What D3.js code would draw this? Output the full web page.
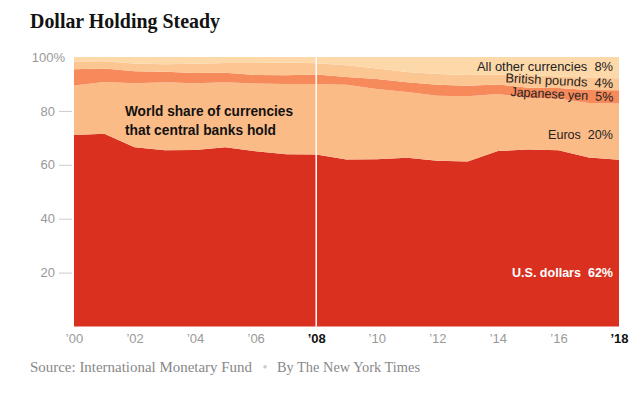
<!DOCTYPE html>
<html>
<head>
<meta charset="utf-8">
<script src="https://cdn.jsdelivr.net/npm/d3@7"></script>
<style>
  html, body { margin: 0; padding: 0; background: #fff; }
  svg { display: block; }
</style>
</head>
<body>
<svg id="chart" width="642" height="398"></svg>
<script>
// ---- Data (share of allocated reserves, %) ----
const years  = [2000,2001,2002,2003,2004,2005,2006,2007,2008,2009,2010,2011,2012,2013,2014,2015,2016,2017,2018];
const dollar = [71.1,71.5,66.5,65.4,65.5,66.5,65.0,63.9,63.8,62.0,62.1,62.6,61.5,61.2,65.1,65.7,65.4,62.7,61.9];
const euro   = [18.3,19.2,23.8,25.2,24.8,24.1,25.2,26.1,26.2,27.7,26.0,24.4,24.1,24.2,21.2,19.1,19.1,20.2,20.8];
const yen    = [6.1,5.0,4.4,3.9,3.8,3.6,3.1,3.2,3.5,2.9,3.7,3.6,4.1,3.9,3.5,3.8,4.0,4.9,5.0];
const pound  = [2.8,2.7,2.9,2.8,3.4,3.6,4.5,4.8,4.2,4.3,3.9,3.8,4.0,4.0,3.7,4.7,4.3,4.5,4.4];
const other  = [1.7,1.6,2.4,2.7,2.5,2.2,2.2,2.0,2.3,3.1,4.3,5.6,6.3,6.7,6.5,6.7,7.2,7.7,7.9];

const seriesKeys   = ["dollar","euro","yen","pound","other"];
const seriesLabels = ["U.S. dollars", "Euros", "Japanese yen", "British pounds", "All other currencies"];
const seriesPct    = ["62%", "20%", "5%", "4%", "8%"];
const xTicks = [2000,2002,2004,2006,2008,2010,2012,2014,2016,2018];
const yTicks = [20,40,60,80,100];

const colors = {
  dollar: "#d9301f",
  euro:   "#fbbb87",
  yen:    "#f68a5a",
  pound:  "#fcc692",
  other:  "#fdd9aa"
};

const rows = years.map((yr, i) => ({
  year: yr, dollar: dollar[i], euro: euro[i], yen: yen[i], pound: pound[i], other: other[i]
}));

const svg = d3.select("#chart");
const plotL = 74, plotR = 619, plotT = 57, plotB = 326.5;

const x = d3.scaleLinear().domain([2000, 2018]).range([plotL, plotR]);
const y = d3.scaleLinear().domain([0, 100]).range([plotB, plotT]);

const stack = d3.stack().keys(seriesKeys);
const layers = stack(rows);

const area = d3.area()
  .x(d => x(d.data.year))
  .y0(d => y(d[0]))
  .y1(d => y(d[1]));

svg.append("g").selectAll("path")
  .data(layers)
  .join("path")
  .attr("fill", d => colors[d.key])
  .attr("d", area);

// 2008 white marker line
svg.append("line")
  .attr("x1", x(2008)).attr("x2", x(2008))
  .attr("y1", y(100)).attr("y2", y(0))
  .attr("stroke", "#fff").attr("stroke-width", 1.5);

// ---- Axes ----
const fontSans = "'Liberation Sans', Arial, sans-serif";

const xAxis = svg.append("g")
  .attr("transform", `translate(0,${plotB})`)
  .call(d3.axisBottom(x).tickValues(xTicks).tickSize(0).tickPadding(7.5)
    .tickFormat(d => "\u2019" + String(d).slice(2)));
xAxis.select(".domain").remove();
xAxis.selectAll("text")
  .attr("font-family", fontSans)
  .attr("font-size", 13)
  .attr("fill", d => (d === 2008 || d === 2018) ? "#111" : "#999")
  .attr("font-weight", d => (d === 2008 || d === 2018) ? "bold" : "normal");

const yAxis = svg.append("g")
  .attr("transform", `translate(72,0)`)
  .call(d3.axisLeft(y).tickValues(yTicks).tickSize(13).tickPadding(4)
    .tickFormat(d => d === 100 ? "100%" : d));
yAxis.select(".domain").remove();
yAxis.selectAll(".tick line")
  .attr("stroke", "#ccc")
  .attr("stroke-width", 1)
  .attr("display", d => d === 100 ? "none" : null);
yAxis.selectAll("text")
  .attr("font-family", fontSans)
  .attr("font-size", 13)
  .attr("fill", "#999")
  .attr("x", d => d === 100 ? -7 : -17);

// ---- Title ----
svg.append("text")
  .attr("x", 30).attr("y", 28)
  .attr("font-family", "'Liberation Serif', 'Times New Roman', serif")
  .attr("font-weight", "bold")
  .attr("font-size", 21)
  .attr("fill", "#121212")
  .attr("textLength", 190)
  .attr("lengthAdjust", "spacingAndGlyphs")
  .text("Dollar Holding Steady");

// ---- Annotation ----
const ann = ["World share of currencies", "that central banks hold"];
const annW = [168, 151];
svg.append("g").selectAll("text")
  .data(ann)
  .join("text")
  .attr("x", 125)
  .attr("y", (d, i) => 116 + i * 18.5)
  .attr("font-family", fontSans)
  .attr("font-weight", "bold")
  .attr("font-size", 15)
  .attr("fill", "#111")
  .attr("textLength", (d, i) => annW[i])
  .attr("lengthAdjust", "spacingAndGlyphs")
  .text(d => d);

// ---- Series labels (right side) ----
const labelPos = [
  {k: 0, y: 277, rot: 0, color: "#fff", weight: "bold", w: 101},
  {k: 1, y: 138.5, rot: 0, color: "#222", weight: "normal", w: 65},
  {k: 2, y: 101.5, rot: 3, color: "#222", weight: "normal", w: 103},
  {k: 3, y: 88, rot: 3, color: "#222", weight: "normal", w: 108},
  {k: 4, y: 71, rot: 0, color: "#222", weight: "normal", w: 136}
];
const lx = 613;
svg.append("g").selectAll("text")
  .data(labelPos)
  .join("text")
  .attr("x", lx)
  .attr("y", d => d.y)
  .attr("text-anchor", "end")
  .attr("transform", d => d.rot ? `rotate(${d.rot},${lx},${d.y})` : null)
  .attr("font-family", fontSans)
  .attr("font-size", 13)
  .attr("font-weight", d => d.weight)
  .attr("fill", d => d.color)
  .attr("textLength", d => d.w)
  .attr("lengthAdjust", "spacingAndGlyphs")
  .attr("xml:space", "preserve")
  .text(d => seriesLabels[d.k] + "  " + seriesPct[d.k]);

// ---- Source line ----
const fontSerif = "'Liberation Serif', Georgia, serif";
svg.append("text")
  .attr("x", 30).attr("y", 372)
  .attr("font-family", fontSerif).attr("font-size", 14).attr("fill", "#888")
  .attr("textLength", 222).attr("lengthAdjust", "spacingAndGlyphs")
  .text("Source: International Monetary Fund");
svg.append("text")
  .attr("x", 265).attr("y", 372)
  .attr("text-anchor", "middle")
  .attr("font-family", fontSerif).attr("font-size", 14).attr("fill", "#ccc")
  .text("\u2022");
svg.append("text")
  .attr("x", 277).attr("y", 372)
  .attr("font-family", fontSerif).attr("font-size", 14).attr("fill", "#888")
  .attr("textLength", 143).attr("lengthAdjust", "spacingAndGlyphs")
  .text("By The New York Times");
</script>
</body>
</html>
